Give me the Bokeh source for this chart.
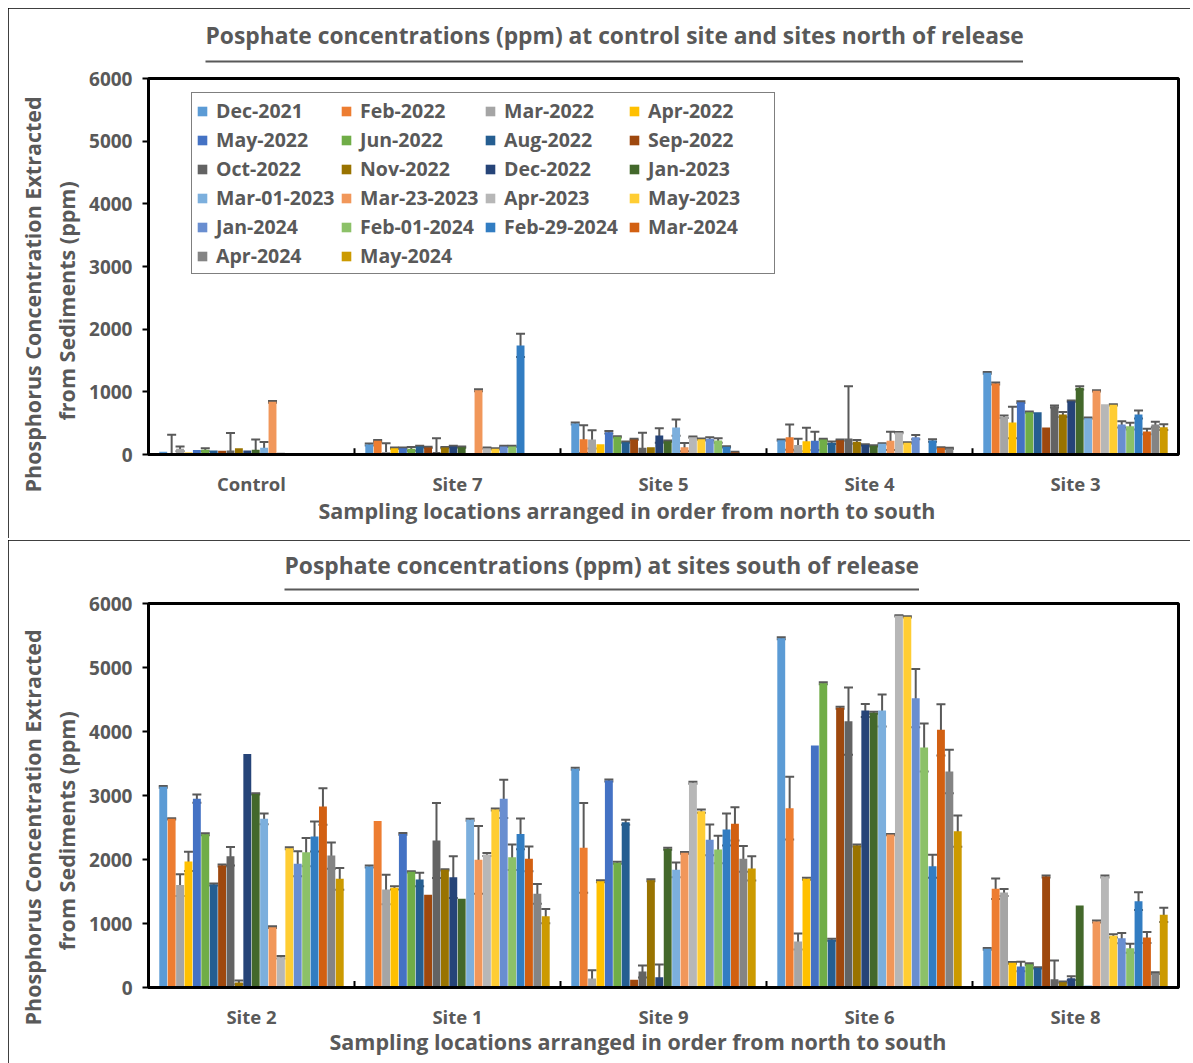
from bokeh.plotting import figure
from bokeh.models import (ColumnDataSource, Whisker, TeeHead, Legend, LegendItem,
                          Title, FactorRange, Spacer)
from bokeh.transform import dodge
from bokeh.layouts import column, row
from bokeh.embed import file_html
from bokeh.resources import INLINE

series = ["Dec-2021", "Feb-2022", "Mar-2022", "Apr-2022", "May-2022", "Jun-2022",
          "Aug-2022", "Sep-2022", "Oct-2022", "Nov-2022", "Dec-2022", "Jan-2023",
          "Mar-01-2023", "Mar-23-2023", "Apr-2023", "May-2023", "Jan-2024",
          "Feb-01-2024", "Feb-29-2024", "Mar-2024", "Apr-2024", "May-2024"]
colors = ["#5B9BD5", "#ED7D31", "#A5A5A5", "#FFC000", "#4472C4", "#70AD47",
          "#255E91", "#9E480E", "#636363", "#997300", "#264478", "#43682B",
          "#7CAFDD", "#F1975A", "#B7B7B7", "#FFCD33", "#698ED0", "#8CC168",
          "#327DC2", "#D26012", "#848484", "#CC9A00"]

north_sites = ["Control", "Site 7", "Site 5", "Site 4", "Site 3"]
south_sites = ["Site 2", "Site 1", "Site 9", "Site 6", "Site 8"]
yticks = [0, 1000, 2000, 3000, 4000, 5000, 6000]

# values per site, in the order of `series`
control = [43, 15, 90, 30, 70, 75, 64, 60, 64, 100, 64, 75, 106, 840, 32, 10, 0, 0, 0, 0, 0, 0]
control_err = [0, 300, 37, 0, 0, 25, 0, 0, 280, 0, 0, 165, 95, 15, 0, 0, 0, 0, 0, 0, 0, 0]
site7 = [160, 218, 40, 100, 100, 90, 128, 112, 40, 110, 128, 117, 0, 1026, 100, 90, 128, 128, 1740, 0, 0, 0]
site7_err = [15, 15, 140, 10, 10, 30, 10, 10, 220, 10, 10, 10, 0, 15, 10, 10, 10, 10, 185, 0, 0, 0]
site5 = [495, 245, 240, 165, 356, 282, 197, 240, 106, 117, 303, 213, 430, 117, 277, 245, 250, 223, 122, 32, 5, 0]
site5_err = [15, 220, 145, 0, 20, 10, 10, 10, 240, 0, 115, 10, 130, 65, 10, 10, 25, 35, 10, 10, 0, 0]
site4 = [229, 277, 150, 212, 218, 240, 186, 229, 255, 202, 154, 138, 170, 218, 351, 186, 277, 10, 223, 106, 96, 0]
site4_err = [10, 200, 100, 215, 145, 10, 20, 10, 835, 30, 10, 10, 10, 145, 10, 10, 35, 0, 20, 10, 10, 0]
site3 = [1303, 1133, 601, 510, 835, 675, 675, 430, 766, 638, 851, 1064, 580, 1016, 803, 793, 479, 452, 638, 367, 479, 436]
site3_err = [15, 15, 20, 250, 15, 10, 0, 0, 15, 40, 10, 25, 10, 10, 0, 10, 50, 55, 65, 45, 45, 45]

site2 = [3135, 2635, 1600, 1970, 2950, 2395, 1610, 1905, 2050, 80, 3650, 3025, 2635, 943, 474, 2177, 1932, 2115, 2360, 2828, 2062, 1698]
site2_err = [15, 10, 170, 150, 65, 15, 15, 15, 145, 30, 0, 10, 85, 15, 20, 15, 195, 220, 235, 285, 205, 170]
site1 = [1890, 2600, 1530, 1557, 2400, 1807, 1688, 1448, 2297, 1838, 1724, 1385, 2620, 1995, 2078, 2781, 2948, 2036, 2400, 2010, 1463, 1115]
site1_err = [15, 0, 230, 25, 15, 10, 105, 0, 585, 10, 325, 0, 15, 530, 25, 15, 300, 200, 240, 195, 155, 110]
site9 = [3417, 2182, 140, 1661, 3234, 1948, 2583, 120, 250, 1677, 160, 2167, 1838, 2104, 3198, 2755, 2307, 2156, 2469, 2557, 2010, 1860]
site9_err = [15, 700, 130, 15, 15, 15, 40, 0, 95, 15, 200, 15, 115, 15, 15, 25, 240, 215, 250, 260, 200, 190]
site6 = [5458, 2802, 720, 1698, 3781, 4755, 745, 4370, 4161, 2219, 4328, 4292, 4328, 2390, 5807, 5792, 4520, 3750, 1896, 4026, 3375, 2443]
site6_err = [15, 490, 125, 15, 0, 15, 15, 15, 525, 15, 100, 15, 250, 10, 10, 10, 455, 375, 180, 400, 340, 245]
site8 = [604, 1542, 1484, 385, 328, 365, 307, 1734, 130, 83, 146, 1281, 30, 1031, 1734, 807, 770, 614, 1349, 781, 224, 1135]
site8_err = [15, 160, 55, 15, 75, 15, 10, 15, 290, 10, 30, 0, 0, 15, 15, 25, 80, 70, 140, 85, 15, 110]

FONT = "Open Sans"
TXT = "#595959"
ERRC = "#595959"


def txt_title(text, align, offset, standoff, size):
    return Title(text=text, align=align, offset=offset, standoff=standoff,
                 text_font=FONT, text_font_style="bold", text_font_size=size,
                 text_color=TXT)


def make_fig(sites, vals, errs, width, height, top, bottom, right, title, toff,
             ul_stand, t_stand, ul_len, xl_off, xl_stand, yl1_off, yl2_off, with_legend):
    p = figure(x_range=FactorRange(*sites), y_range=(0, 6000), width=width, height=height,
               output_backend="svg", toolbar_location=None,
               min_border_left=140, min_border_right=right,
               min_border_top=top, min_border_bottom=bottom)
    p.styles = {"outline": "1.5px solid black", "outline-offset": "-1px"}
    p.xgrid.visible = False
    p.ygrid.visible = False
    p.outline_line_color = "black"
    p.outline_line_width = 3
    p.yaxis.ticker = yticks
    for ax in (p.xaxis[0], p.yaxis[0]):
        ax.axis_line_color = "black"
        ax.axis_line_width = 3
        ax.major_tick_line_color = "black"
        ax.major_tick_line_width = 2
        ax.minor_tick_line_color = None
        ax.major_label_text_font = FONT
        ax.major_label_text_font_style = "bold"
        ax.major_label_text_font_size = "19px"
        ax.major_label_text_color = TXT
    p.xaxis.major_label_text_font_size = "18.5px"
    p.yaxis.major_tick_out = 6
    p.yaxis.major_tick_in = 0
    p.yaxis.major_label_standoff = 10
    p.xaxis.major_tick_out = 0
    p.xaxis.major_tick_in = 0
    p.xaxis.major_label_standoff = 16

    # small marks at the group boundaries (inside the frame)
    bnd = list(range(len(sites) + 1))
    p.segment(x0=bnd, x1=bnd, y0=[0] * len(bnd), y1=[100] * len(bnd),
              line_color="black", line_width=2)

    n = len(series)
    step = 0.0408
    items = []
    for i, s in enumerate(series):
        off = (i - (n - 1) / 2) * step
        v = [vals[k][i] for k in range(len(sites))]
        e = [errs[k][i] for k in range(len(sites))]
        src = ColumnDataSource(dict(site=sites, v=v))
        r = p.vbar(x=dodge("site", off, range=p.x_range), top="v", width=step * 0.94,
                   source=src, fill_color=colors[i], line_color=None)
        items.append(LegendItem(label=s, renderers=[r]))
        ws, wl, wh = [], [], []
        for k in range(len(sites)):
            if e[k] > 0 and v[k] > 0:
                ws.append(sites[k])
                wl.append(max(0, v[k] - e[k]))
                wh.append(v[k] + e[k])
        if ws:
            wsrc = ColumnDataSource(dict(site=ws, lo=wl, hi=wh))
            w = Whisker(base=dodge("site", off, range=p.x_range), lower="lo", upper="hi",
                        source=wsrc, line_color=ERRC, line_width=2,
                        upper_head=TeeHead(size=9, line_color=ERRC, line_width=2),
                        lower_head=TeeHead(size=9, line_color=ERRC, line_width=2))
            p.add_layout(w)

    if with_legend:
        leg = Legend(items=items, location=(43, 180), orientation="horizontal", ncols=4,
                     label_text_font=FONT, label_text_font_style="bold",
                     label_text_font_size="19.5px", label_text_color=TXT,
                     glyph_width=12, glyph_height=12, label_standoff=8,
                     label_width=122, spacing=2, padding=4, margin=0,
                     border_line_color="black", border_line_width=1.5,
                     background_fill_alpha=1)
        p.add_layout(leg)

    # title underline (closest to frame), then the title text
    underline = Title(text="\u2003" * ul_len, align="left", offset=toff, standoff=ul_stand,
                      text_font=FONT, text_font_size="1.5px", text_color=TXT,
                      background_fill_color=TXT, background_fill_alpha=1, padding=0)
    p.add_layout(underline, "above")
    p.add_layout(txt_title(title, "left", toff, t_stand, "22.8px"), "above")
    # x-axis label
    p.add_layout(txt_title("Sampling locations arranged in order from north to south",
                           "left", xl_off, xl_stand, "21.5px"), "below")
    # y-axis label, two lines
    p.add_layout(txt_title("from Sediments (ppm)", "left", yl2_off, 12, "21.5px"), "left")
    p.add_layout(txt_title("Phosphorus Concentration Extracted", "left", yl1_off, -6,
                           "21.5px"), "left")
    return p


p1 = make_fig(north_sites, [control, site7, site5, site4, site3],
              [control_err, site7_err, site5_err, site4_err, site3_err],
              1182, 530, 70, 84, 12,
              "Posphate concentrations (ppm) at control site and sites north of release",
              57, 32, -16, 545, 170, -9, -38, 34, True)
p2 = make_fig(south_sites, [site2, site1, site9, site6, site8],
              [site2_err, site1_err, site9_err, site6_err, site8_err],
              1182, 523, 63, 76, 12,
              "Posphate concentrations (ppm) at sites south of release",
              136, 26, -14, 423, 181, -14, -38, 37, False)

layout = column(Spacer(width=1190, height=8),
                row(Spacer(width=8, height=530), p1),
                Spacer(width=1190, height=2),
                row(Spacer(width=8, height=523), p2))
open("out.html", "w").write(file_html(layout, INLINE))
